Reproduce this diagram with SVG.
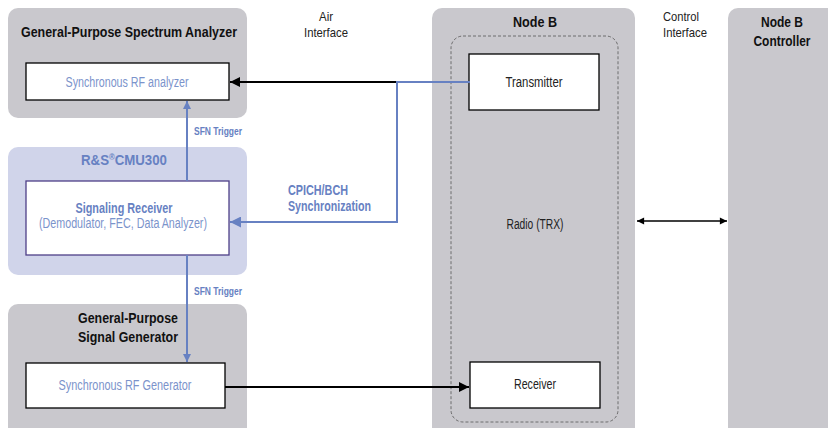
<svg xmlns="http://www.w3.org/2000/svg" width="828" height="428" viewBox="0 0 828 428">
<defs>
<style>
text{font-family:"Liberation Sans",Arial,sans-serif;}
.grp{fill:#c9c8cd;}
.cmu{fill:#d0d4ea;}
.box{fill:#fff;stroke:#000;stroke-width:1.3;}
.sbox{fill:#fff;stroke:#4e3f87;stroke-width:1.3;}
.title{font-weight:bold;font-size:15.5px;fill:#111;text-anchor:middle;}
.lbl{font-size:14px;fill:#222;text-anchor:middle;}
.blbl{font-size:14px;fill:#7b93cb;text-anchor:middle;}
.bb{font-weight:bold;fill:#6781c2;}
.note{font-size:13px;fill:#222;}
.blk{stroke:#000;stroke-width:2;fill:none;}
.thin{stroke:#000;stroke-width:1.3;fill:none;}
.blu{stroke:#6781c2;stroke-width:2;fill:none;}
</style>
<marker id="ah" viewBox="0 0 10 10" refX="10" refY="5" markerWidth="6" markerHeight="5" markerUnits="strokeWidth" orient="auto-start-reverse"><path d="M0,0 L10,5 L0,10 z" fill="#000"/></marker>
<marker id="ahs" viewBox="0 0 10 10" refX="10" refY="5" markerWidth="9" markerHeight="5.5" markerUnits="strokeWidth" orient="auto-start-reverse"><path d="M0,0 L10,5 L0,10 z" fill="#000"/></marker>
<marker id="bh" viewBox="0 0 10 10" refX="10" refY="5" markerWidth="6" markerHeight="5.5" markerUnits="strokeWidth" orient="auto-start-reverse"><path d="M0,0 L10,5 L0,10 z" fill="#6781c2"/></marker>
<marker id="bhs" viewBox="0 0 10 10" refX="10" refY="5" markerWidth="4" markerHeight="4" markerUnits="strokeWidth" orient="auto-start-reverse"><path d="M0,0 L10,5 L0,10 z" fill="#6781c2"/></marker>
</defs>

<g id="spectrum-analyzer">
<rect class="grp" x="8" y="8" width="239" height="110" rx="10"/>
<text class="title" x="129" y="37" textLength="216" lengthAdjust="spacingAndGlyphs">General-Purpose Spectrum Analyzer</text>
<rect class="box" x="26" y="63" width="203" height="37"/>
<text class="blbl" x="127" y="87" textLength="123" lengthAdjust="spacingAndGlyphs">Synchronous RF analyzer</text>
</g>

<g id="cmu300">
<rect class="cmu" x="8" y="147" width="239" height="128" rx="10"/>
<text class="title bb" x="124" y="165" font-size="16" textLength="86" lengthAdjust="spacingAndGlyphs">R&amp;S<tspan font-size="9" baseline-shift="super">®</tspan>CMU300</text>
<rect class="sbox" x="26" y="181" width="203" height="74"/>
<text class="blbl bb" x="124" y="213" font-size="14.5" textLength="97" lengthAdjust="spacingAndGlyphs">Signaling Receiver</text>
<text class="blbl" x="123" y="228" textLength="168" lengthAdjust="spacingAndGlyphs">(Demodulator, FEC, Data Analyzer)</text>
</g>

<g id="signal-generator">
<rect class="grp" x="8" y="304" width="239" height="140" rx="10"/>
<text class="title" x="128" y="323" textLength="100" lengthAdjust="spacingAndGlyphs">General-Purpose</text>
<text class="title" x="128" y="342" textLength="100" lengthAdjust="spacingAndGlyphs">Signal Generator</text>
<rect class="box" x="26" y="363" width="199" height="45"/>
<text class="blbl" x="125" y="390" textLength="133" lengthAdjust="spacingAndGlyphs">Synchronous RF Generator</text>
</g>

<g id="node-b">
<rect class="grp" x="432" y="8" width="203" height="440" rx="10"/>
<text class="title" x="535" y="27" textLength="44" lengthAdjust="spacingAndGlyphs">Node B</text>
<rect x="451" y="36" width="167" height="386" rx="12" fill="none" stroke="#555" stroke-width="0.8" stroke-dasharray="3,2"/>
<rect class="box" x="469" y="54" width="130" height="56"/>
<text class="lbl" x="534" y="87" textLength="57" lengthAdjust="spacingAndGlyphs">Transmitter</text>
<text class="lbl" x="535" y="229" textLength="57" lengthAdjust="spacingAndGlyphs">Radio (TRX)</text>
<rect class="box" x="470" y="362" width="130" height="46"/>
<text class="lbl" x="535" y="389" textLength="42" lengthAdjust="spacingAndGlyphs">Receiver</text>
</g>

<g id="node-b-controller">
<rect class="grp" x="728" y="8" width="120" height="440" rx="10"/>
<text class="title" x="782" y="27" textLength="42" lengthAdjust="spacingAndGlyphs">Node B</text>
<text class="title" x="782" y="46" textLength="57" lengthAdjust="spacingAndGlyphs">Controller</text>
</g>

<g id="labels">
<text class="note" x="326" y="21" text-anchor="middle" textLength="14" lengthAdjust="spacingAndGlyphs">Air</text>
<text class="note" x="326" y="37" text-anchor="middle" textLength="44" lengthAdjust="spacingAndGlyphs">Interface</text>
<text class="note" x="663" y="21" textLength="36" lengthAdjust="spacingAndGlyphs">Control</text>
<text class="note" x="663" y="37" textLength="44" lengthAdjust="spacingAndGlyphs">Interface</text>
<text class="bb" x="194" y="135" font-size="11.5" textLength="48" lengthAdjust="spacingAndGlyphs">SFN Trigger</text>
<text class="bb" x="194" y="295" font-size="11.5" textLength="48" lengthAdjust="spacingAndGlyphs">SFN Trigger</text>
<text class="bb" x="288" y="195" font-size="15" textLength="60" lengthAdjust="spacingAndGlyphs">CPICH/BCH</text>
<text class="bb" x="288" y="211" font-size="15" textLength="83" lengthAdjust="spacingAndGlyphs">Synchronization</text>
</g>

<g id="connectors">
<line class="blk" x1="396" y1="82" x2="230" y2="82" marker-end="url(#ah)"/>
<polyline class="blu" points="470,82 397,82 397,222 230,222" marker-end="url(#bh)"/>
<line class="blu" x1="187" y1="181" x2="187" y2="101" marker-end="url(#bhs)"/>
<line class="blu" x1="187" y1="255" x2="187" y2="362" marker-end="url(#bhs)"/>
<line class="blk" x1="225" y1="387" x2="469" y2="387" marker-end="url(#ah)"/>
<line class="thin" x1="637" y1="221" x2="727" y2="221" marker-start="url(#ahs)" marker-end="url(#ahs)"/>
</g>
</svg>
